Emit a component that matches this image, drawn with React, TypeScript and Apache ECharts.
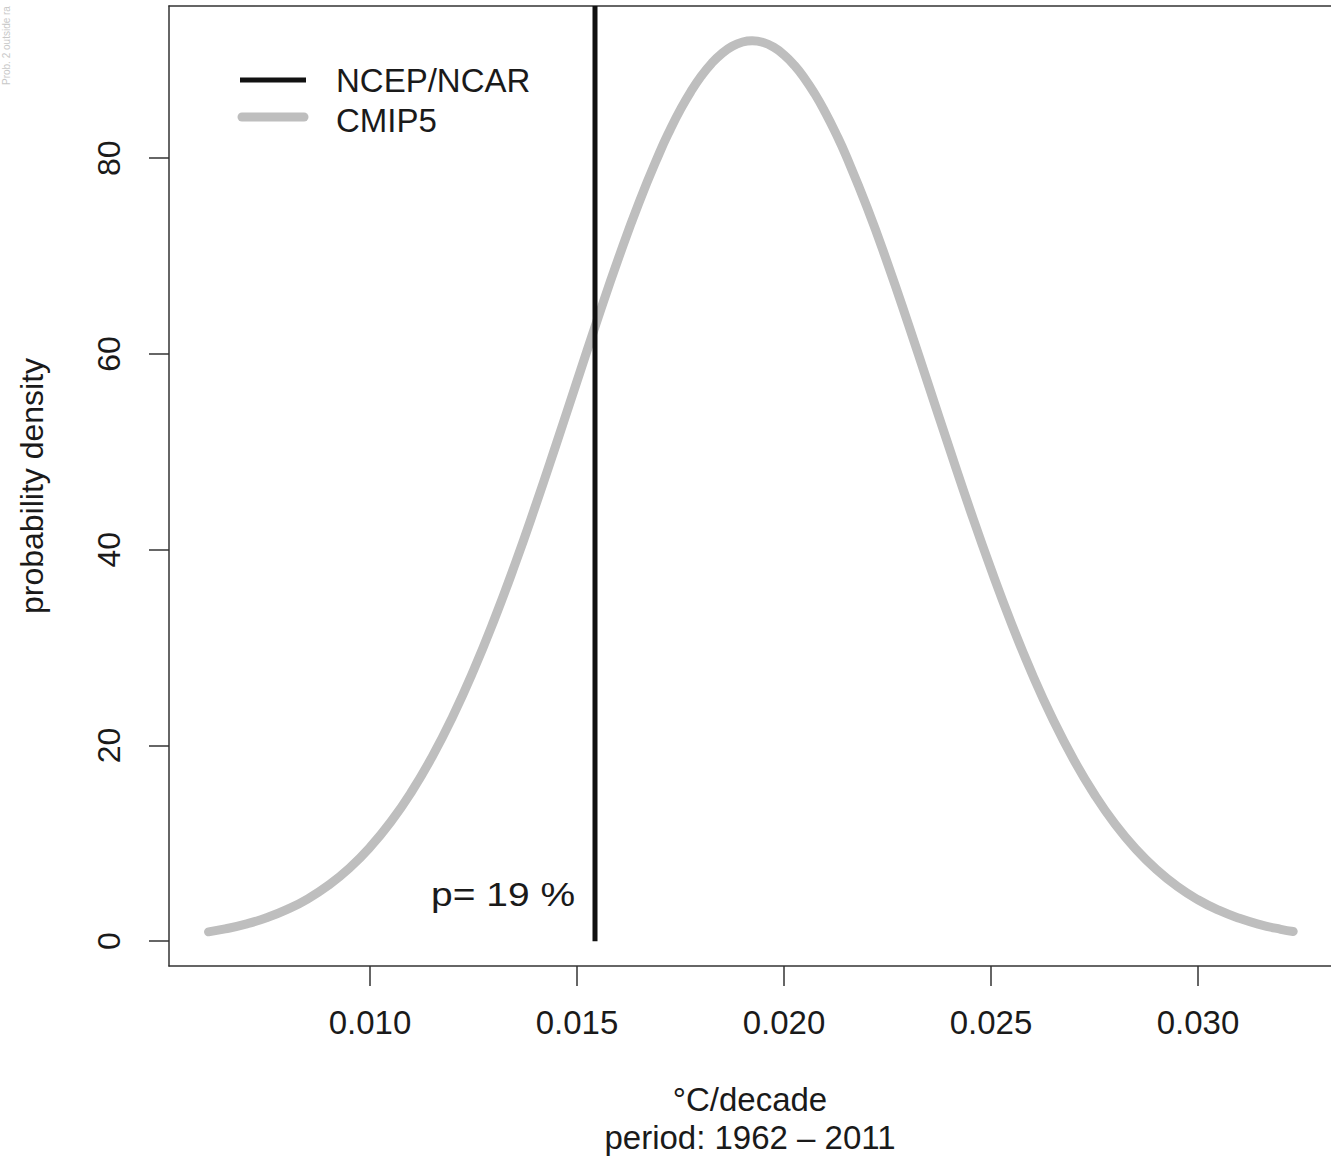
import React, { useEffect, useRef } from "react";
import * as echarts from "echarts";

// CMIP5 probability density
const cmipX = [
  0.0061, 0.0065, 0.007, 0.0075, 0.008, 0.0085, 0.009, 0.0095, 0.01, 0.0105,
  0.011, 0.0115, 0.012, 0.0125, 0.013, 0.0135, 0.014, 0.0145, 0.015, 0.0155,
  0.016, 0.0165, 0.017, 0.01725, 0.0175, 0.01775, 0.018, 0.01825, 0.0185, 0.01875,
  0.019, 0.01923, 0.0195, 0.01975, 0.02, 0.02025, 0.0205, 0.02075, 0.021, 0.02125,
  0.0215, 0.022, 0.0225, 0.023, 0.0235, 0.024, 0.0245, 0.025, 0.0255,
  0.026, 0.0265, 0.027, 0.0275, 0.028, 0.0285, 0.029, 0.0295, 0.03, 0.0305,
  0.031, 0.0315, 0.032, 0.0323,
];
const cmipY = [
  0.95, 1.25, 1.74, 2.39, 3.24, 4.33, 5.72, 7.45, 9.59, 12.17,
  15.24, 18.83, 22.97, 27.65, 32.84, 38.48, 44.51, 50.8, 57.21, 63.59,
  69.75, 75.49, 80.62, 82.91, 84.98, 86.8, 88.38, 89.68, 90.7, 91.44,
  91.87, 92.0, 91.82, 91.34, 90.56, 89.49, 88.14, 86.53, 84.66, 82.56,
  80.24, 75.05, 69.27, 63.08, 56.7, 50.29, 44.01, 38.02, 32.4,
  27.25, 22.62, 18.53, 14.98, 11.94, 9.4, 7.3, 5.59, 4.23, 3.16,
  2.33, 1.69, 1.21, 0.99,
];
// NCEP/NCAR observed trend
const ncepValue = 0.015435;
const pLabel = "p= 19 %";

const xTicks = [0.01, 0.015, 0.02, 0.025, 0.03];
const yTicks = [0, 20, 40, 60, 80];

const X_MIN = 0.005145;
const X_MAX = 0.033213;
const Y_MIN = -2.54;
const Y_MAX = 95.55;

const FONT = "'Liberation Sans', Arial, Helvetica, sans-serif";
const TXT = "#1a1a1a";
const AXC = "#333333";

export default function App() {
  const ref = useRef<HTMLDivElement>(null);

  useEffect(() => {
    document.body.style.margin = "0";
    if (!ref.current) return;
    const chart = echarts.init(ref.current, undefined, { renderer: "svg" });

    const curve = cmipX.map((x, i) => [x, cmipY[i]]);
    const ncep = [
      [ncepValue, 0],
      [ncepValue, Y_MAX],
    ];

    chart.setOption({
      animation: false,
      backgroundColor: "#ffffff",
      textStyle: { fontFamily: FONT },
      grid: { left: 169, top: 6, right: 0, bottom: 190, containLabel: false },
      xAxis: [
        {
          type: "value",
          min: X_MIN,
          max: X_MAX,
          position: "bottom",
          splitLine: { show: false },
          axisLine: { show: true, onZero: false, lineStyle: { color: AXC, width: 1.5 } },
          axisTick: {
            show: true,
            length: 20,
            inside: false,
            customValues: xTicks,
            lineStyle: { color: AXC, width: 1.5 },
          },
          axisLabel: {
            show: true,
            customValues: xTicks,
            margin: 40,
            fontSize: 33,
            color: TXT,
            fontFamily: FONT,
            formatter: (v: number) => v.toFixed(3),
          },
          name: "°C/decade\nperiod: 1962 – 2011",
          nameLocation: "middle",
          nameGap: 114,
          nameTextStyle: { fontSize: 33, color: TXT, fontFamily: FONT, lineHeight: 38 },
        },
        {
          type: "value",
          min: X_MIN,
          max: X_MAX,
          position: "top",
          splitLine: { show: false },
          axisLine: { show: true, onZero: false, lineStyle: { color: AXC, width: 1.5 } },
          axisTick: { show: false },
          axisLabel: { show: false },
        },
      ],
      yAxis: {
        type: "value",
        min: Y_MIN,
        max: Y_MAX,
        splitLine: { show: false },
        axisLine: { show: true, onZero: false, lineStyle: { color: AXC, width: 1.5 } },
        axisTick: {
          show: true,
          length: 20,
          customValues: yTicks,
          lineStyle: { color: AXC, width: 1.5 },
        },
        axisLabel: {
          show: true,
          customValues: yTicks,
          rotate: 90,
          margin: 44,
          fontSize: 32,
          color: TXT,
          fontFamily: FONT,
        },
        name: "probability density",
        nameLocation: "middle",
        nameRotate: 90,
        nameGap: 121,
        nameTextStyle: { fontSize: 32, color: TXT, fontFamily: FONT },
      },
      series: [
        {
          type: "line",
          name: "CMIP5",
          data: curve,
          smooth: true,
          symbol: "none",
          clip: true,
          lineStyle: { color: "#bebebe", width: 9, cap: "round", join: "round" },
          z: 2,
        },
        {
          type: "line",
          name: "NCEP/NCAR",
          data: ncep,
          symbol: "none",
          clip: true,
          lineStyle: { color: "#111111", width: 5 },
          z: 3,
        },
      ],
      graphic: [
        {
          type: "line",
          shape: { x1: 240, y1: 80, x2: 306, y2: 80 },
          style: { stroke: "#111111", lineWidth: 5 },
        },
        {
          type: "line",
          shape: { x1: 242, y1: 117, x2: 304, y2: 117 },
          style: { stroke: "#bebebe", lineWidth: 9, lineCap: "round" },
        },
        {
          type: "text",
          x: 336,
          y: 80,
          style: {
            text: "NCEP/NCAR",
            font: `33px ${FONT}`,
            fill: TXT,
            textAlign: "left",
            textVerticalAlign: "middle",
          },
        },
        {
          type: "text",
          x: 336,
          y: 120,
          style: {
            text: "CMIP5",
            font: `33px ${FONT}`,
            fill: TXT,
            textAlign: "left",
            textVerticalAlign: "middle",
          },
        },
        {
          type: "text",
          x: 575,
          y: 895,
          scaleX: 1.18,
          style: {
            text: pLabel,
            font: `33px ${FONT}`,
            fill: TXT,
            textAlign: "right",
            textVerticalAlign: "middle",
          },
        },
        {
          type: "text",
          x: 6,
          y: 85,
          rotation: Math.PI / 2,
          style: {
            text: "Prob. 2 outside ra",
            font: `10px ${FONT}`,
            fill: "#c8c8c8",
            textAlign: "left",
            textVerticalAlign: "middle",
          },
        },
      ],
    });

    return () => {
      chart.dispose();
    };
  }, []);

  return (
    <div
      ref={ref}
      style={{ position: "absolute", left: 0, top: 0, width: 1331, height: 1161 }}
    />
  );
}
